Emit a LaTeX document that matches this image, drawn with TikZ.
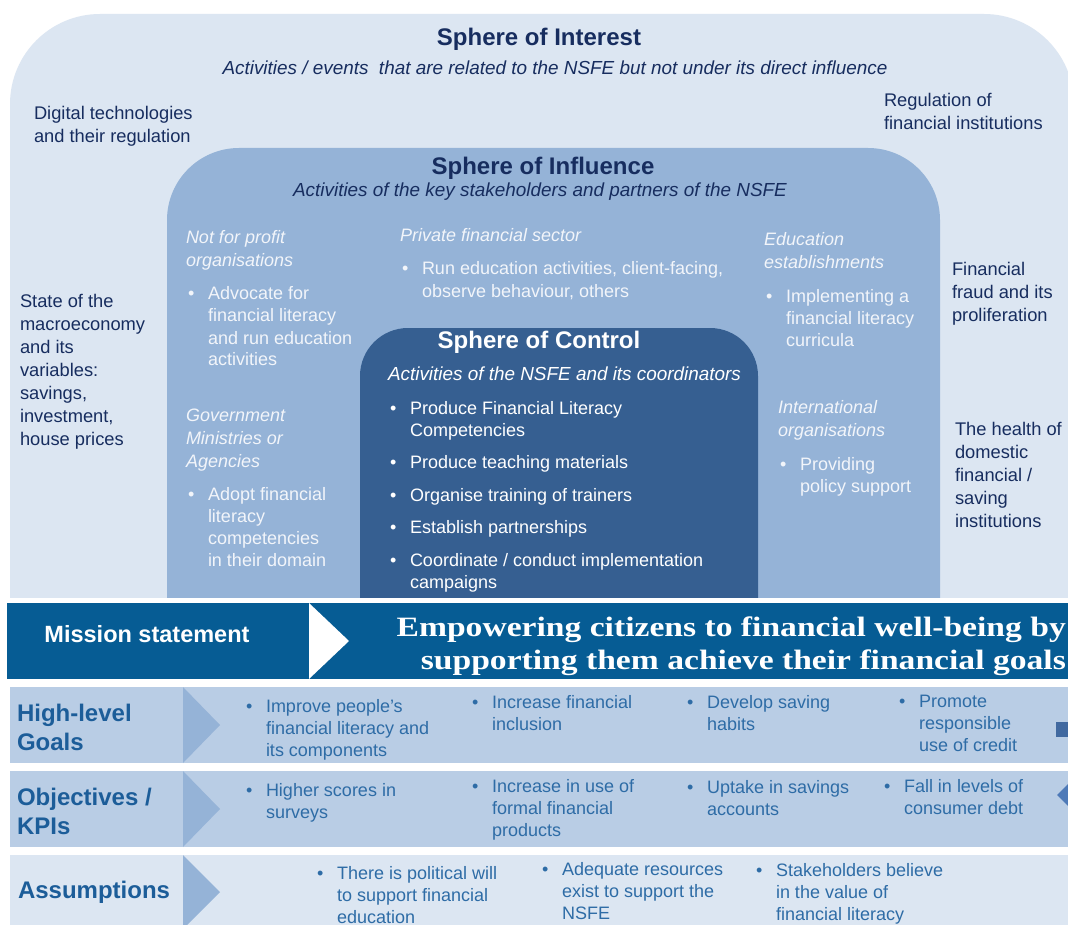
\documentclass[tikz,border=0pt]{standalone}
\usepackage{fontspec}
\setmainfont{Liberation Sans}
\newfontfamily\missionfont[FakeStretch=1.2]{Liberation Serif}

\definecolor{interestbg}{RGB}{220,230,242}
\definecolor{influencebg}{RGB}{149,179,215}
\definecolor{controlbg}{RGB}{54,95,145}
\definecolor{missionbg}{RGB}{6,92,148}
\definecolor{rowmid}{RGB}{185,205,229}
\definecolor{rowlight}{RGB}{220,230,242}
\definecolor{chevronbg}{RGB}{149,179,215}
\definecolor{navytext}{RGB}{23,45,95}
\definecolor{paletext}{RGB}{242,245,250}
\definecolor{rowtitle}{RGB}{28,93,153}
\definecolor{rowtext}{RGB}{46,108,166}
\definecolor{edgeblock}{RGB}{65,105,160}
\definecolor{edgediamond}{RGB}{78,122,184}

% left-aligned block of lines whose baseline is the first line
\newcommand{\linesof}[1]{\begin{tabular}[t]{@{}l@{}}#1\end{tabular}}
% bulleted item with hanging indent
\newcommand{\bulletitem}[1]{\makebox[20pt][l]{\textbullet}\linesof{#1}}

\tikzset{
  lbl/.style={inner sep=0pt, outer sep=0pt, anchor=base west},
  ctr/.style={inner sep=0pt, outer sep=0pt, anchor=base},
  sphtitle/.style={ctr, font=\bfseries\fontsize{24}{29}\selectfont},
  sphsub/.style={font=\itshape\fontsize{18.9}{22}\selectfont},
  outside/.style={lbl, text=navytext, font=\fontsize{18.3}{23}\selectfont},
  inhead/.style={lbl, text=paletext, font=\itshape\fontsize{18}{23}\selectfont},
  initem/.style={lbl, text=paletext, font=\fontsize{18}{22}\selectfont},
  rowhead/.style={lbl, text=rowtitle, font=\bfseries\fontsize{24}{29}\selectfont},
  rowitem/.style={lbl, text=rowtext, font=\fontsize{18}{22}\selectfont},
  chevron/.style={fill=chevronbg},
}

\begin{document}
\begin{tikzpicture}[x=1pt, y=-1pt]
\useasboundingbox (0,0) rectangle (1068,925);
\fill[white] (0,0) rectangle (1068,925);

% nested spheres, cut flat along the bottom
\begin{scope}
  \clip (0,0) rectangle (1080,597);
  \fill[interestbg, rounded corners=90pt] (10,14) rectangle (1074,700);
  \fill[influencebg, rounded corners=72pt] (167,148) rectangle (940,700);
  \fill[controlbg, rounded corners=48pt] (360,328) rectangle (758,700);
\end{scope}

% sphere of interest
\node[sphtitle, text=navytext] (intT) at (539,46) {Sphere of Interest};
\node[ctr, sphsub, text=navytext] (intS) at (555,75)
  {Activities / events \ that are related to the NSFE but not under its direct influence};
\node[outside] (intA) at (34,120) {\linesof{Digital technologies\\and their regulation}};
\node[outside] (intB) at (884,107) {\linesof{Regulation of\\financial institutions}};
\node[outside] (intC) at (20,308)
  {\linesof{State of the\\macroeconomy\\and its\\variables:\\savings,\\investment,\\house prices}};
\node[outside] (intD) at (952,276) {\linesof{Financial\\fraud and its\\proliferation}};
\node[outside] (intE) at (955,435)
  {\linesof{The health of\\domestic\\financial /\\saving\\institutions}};

% sphere of influence
\node[sphtitle, text=navytext] (infT) at (543,175) {Sphere of Influence};
\node[ctr, sphsub, text=navytext] (infS) at (540,197)
  {Activities of the key stakeholders and partners of the NSFE};
\node[inhead] (infA) at (186,244) {\linesof{Not for profit\\organisations}};
\node[initem] (infAi) at (188,300)
  {\bulletitem{Advocate for\\financial literacy\\and run education\\activities}};
\node[inhead] (infB) at (400,242) {Private financial sector};
\node[initem, font=\fontsize{18}{23}\selectfont] (infBi) at (402,275)
  {\bulletitem{Run education activities, client-facing,\\observe behaviour, others}};
\node[inhead] (infC) at (764,246) {\linesof{Education\\establishments}};
\node[initem] (infCi) at (766,302)
  {\bulletitem{Implementing a\\financial literacy\\curricula}};
\node[inhead] (infD) at (186,421) {\linesof{Government\\Ministries or\\Agencies}};
\node[initem] (infDi) at (188,500)
  {\bulletitem{Adopt financial\\literacy\\competencies\\in their domain}};
\node[inhead] (infE) at (778,413) {\linesof{International\\organisations}};
\node[initem] (infEi) at (780,470) {\bulletitem{Providing\\policy support}};

% sphere of control
\node[sphtitle, text=white] (conT) at (539,348) {Sphere of Control};
\node[lbl, sphsub, text=white] (conS) at (388,380) {Activities of the NSFE and its coordinators};
\node[initem, text=white] (con1) at (390,414) {\bulletitem{Produce Financial Literacy\\Competencies}};
\node[initem, text=white] (con2) at (390,468) {\bulletitem{Produce teaching materials}};
\node[initem, text=white] (con3) at (390,501) {\bulletitem{Organise training of trainers}};
\node[initem, text=white] (con4) at (390,533) {\bulletitem{Establish partnerships}};
\node[initem, text=white] (con5) at (390,566)
  {\bulletitem{Coordinate / conduct implementation\\campaigns}};

% mission band
\fill[missionbg] (7,603) rectangle (1068,679);
\fill[white] (309,603) -- (349,641) -- (309,679) -- cycle;
\node[ctr, text=white, font=\bfseries\fontsize{23.5}{28}\selectfont] (misL) at (147,642) {Mission statement};
\node[inner sep=0pt, anchor=base east, text=white, font=\missionfont\bfseries\fontsize{28}{33}\selectfont]
  (misT) at (1066,636)
  {\begin{tabular}[t]{@{}r@{}}Empowering citizens to financial well-being by\\supporting them achieve their financial goals\end{tabular}};

% rows of goals, objectives and assumptions
\fill[rowmid] (10,687) rectangle (1068,763);
\fill[rowmid] (10,771) rectangle (1068,847);
\fill[rowlight] (10,855) rectangle (1068,925);
\fill[chevron] (183,687) -- (220,725) -- (183,763) -- cycle;
\fill[chevron] (183,771) -- (220,809) -- (183,847) -- cycle;
\fill[chevron] (183,855) -- (220,892) -- (183,929) -- cycle;
\fill[edgeblock] (1056,722) rectangle (1072,737);
\fill[edgediamond] (1057,795) -- (1072,780) -- (1087,795) -- (1072,810) -- cycle;

\node[rowhead] (goalH) at (17,721) {\linesof{High-level\\Goals}};
\node[rowitem] (goal1) at (246,712) {\bulletitem{Improve people's\\financial literacy and\\its components}};
\node[rowitem] (goal2) at (472,708) {\bulletitem{Increase financial\\inclusion}};
\node[rowitem] (goal3) at (687,708) {\bulletitem{Develop saving\\habits}};
\node[rowitem] (goal4) at (899,707) {\bulletitem{Promote\\responsible\\use of credit}};

\node[rowhead] (objH) at (17,805) {\linesof{Objectives /\\KPIs}};
\node[rowitem] (obj1) at (246,796) {\bulletitem{Higher scores in\\surveys}};
\node[rowitem] (obj2) at (472,792) {\bulletitem{Increase in use of\\formal financial\\products}};
\node[rowitem] (obj3) at (687,793) {\bulletitem{Uptake in savings\\accounts}};
\node[rowitem] (obj4) at (884,792) {\bulletitem{Fall in levels of\\consumer debt}};

\node[rowhead] (asmH) at (18,898) {Assumptions};
\node[rowitem] (asm1) at (317,879) {\bulletitem{There is political will\\to support financial\\education}};
\node[rowitem] (asm2) at (542,875) {\bulletitem{Adequate resources\\exist to support the\\NSFE}};
\node[rowitem] (asm3) at (756,876) {\bulletitem{Stakeholders believe\\in the value of\\financial literacy}};
\end{tikzpicture}
\end{document}
